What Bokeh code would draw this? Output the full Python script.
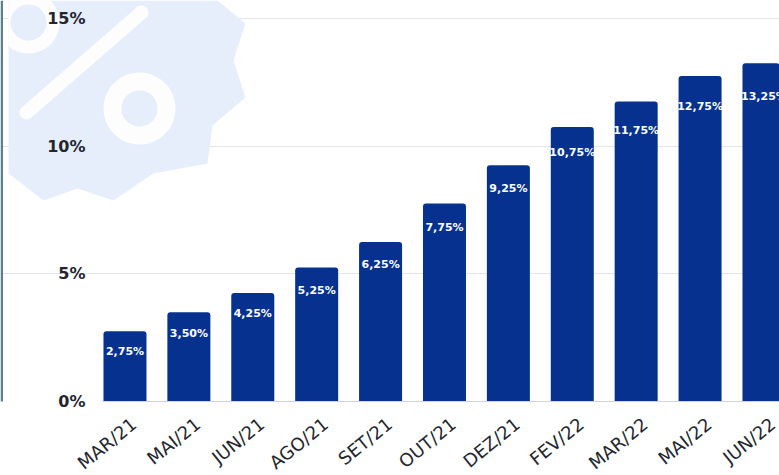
import numpy as np
from bokeh.plotting import figure
from bokeh.models import ColumnDataSource, FixedTicker, PolyAnnotation, BoxAnnotation
from bokeh.embed import file_html
from bokeh.resources import INLINE
from bokeh.core.properties import value

months = ["MAR/21", "MAI/21", "JUN/21", "AGO/21", "SET/21", "OUT/21", "DEZ/21", "FEV/22", "MAR/22", "MAI/22", "JUN/22"]
rates = [2.75, 3.50, 4.25, 5.25, 6.25, 7.75, 9.25, 10.75, 11.75, 12.75, 13.25]
rate_labels = ["2,75%", "3,50%", "4,25%", "5,25%", "6,25%", "7,75%", "9,25%", "10,75%", "11,75%", "12,75%", "13,25%"]
y_ticks = [0, 5, 10, 15]
y_tick_labels = {0: "0%", 5: "5%", 10: "10%", 15: "15%"}
label_drop_px = [20, 21, 21, 23, 23, 24, 23, 25, 29, 31, 33]

W, H = 779, 475
xs = list(range(len(months)))
src = ColumnDataSource(dict(x=xs, top=rates, lab=rate_labels, drop=label_drop_px))

p = figure(width=W, height=H, frame_width=W, frame_height=401,
           output_backend="svg", toolbar_location=None,
           x_range=(-1.948, 10.243), y_range=(0, 15.705),
           min_border_left=0, min_border_right=0, min_border_top=0, min_border_bottom=0,
           outline_line_color=None, background_fill_color=None, border_fill_color="white")

INK = "#23262e"
BLOB = "#e7eefb"
HOLE = "#fdfdfe"

def ring(cx, cy, r):
    t = np.linspace(0, 2 * np.pi, 72)
    return cx + r * np.cos(t), cy + r * np.sin(t)

def poly(px, py, color):
    p.add_layout(PolyAnnotation(xs=list(np.maximum(px, 8)), ys=list(py), xs_units="canvas", ys_units="canvas",
                                fill_color=color, fill_alpha=1, line_color=None, level="underlay", editable=False))

poly(np.array([8, 217, 245, 233, 245, 212, 207, 153, 113, 77, 43, 8.]),
     np.array([0, 0, 23, 60, 97, 125, 163, 173, 200, 188, 200, 173.]), BLOB)
for cx, cy, r in [(28, 22, 31), (139, 108, 36)]:
    poly(*ring(cx, cy, r), HOLE)
    poly(*ring(cx, cy, 18), BLOB)

# the white stroke of the percent sign
ax0, ay0, bx0, by0, hw = 26, 112, 141, 12, 7
th = np.arctan2(by0 - ay0, bx0 - ax0)
arc_b = np.linspace(th - np.pi / 2, th + np.pi / 2, 12)
arc_a = np.linspace(th + np.pi / 2, th + 3 * np.pi / 2, 12)
poly(np.concatenate([bx0 + hw * np.cos(arc_b), ax0 + hw * np.cos(arc_a)]),
     np.concatenate([by0 + hw * np.sin(arc_b), ay0 + hw * np.sin(arc_a)]), HOLE)

p.add_layout(BoxAnnotation(left=0, right=2.5, top=0, bottom=475, left_units="canvas", right_units="canvas",
                           top_units="canvas", bottom_units="canvas", fill_color="#5d7f8b", fill_alpha=1,
                           line_color=None, level="underlay", editable=False))

p.xgrid.visible = False
p.ygrid.ticker = FixedTicker(ticks=y_ticks)
p.ygrid.grid_line_color = "#e3e5ea"
p.ygrid.grid_line_width = 1
p.ygrid.bounds = (-0.352, 10.243)

p.vbar(x="x", top="top", bottom=0, width=0.673, source=src, fill_color="#06318f", line_color=None,
       border_radius=dict(top_left=3, top_right=3, bottom_left=0, bottom_right=0))

p.text(x="x", y="top", text="lab", source=src, y_offset="drop", text_color="white",
       text_font=value("DejaVu Sans"), text_font_style="bold", text_font_size="11px",
       text_align="center", text_baseline="middle")

ax = p.xaxis[0]
ax.ticker = FixedTicker(ticks=[x + 0.14 for x in xs])
ax.major_label_overrides = {x + 0.14: m for x, m in zip(xs, months)}
ax.major_label_orientation = 0.68
ax.major_label_text_font = "DejaVu Sans"
ax.major_label_text_font_size = "18px"
ax.major_label_text_color = INK
ax.major_label_standoff = 14
ax.major_tick_line_color = None
ax.minor_tick_line_color = None
ax.axis_line_color = "#cfd2d8"
ax.axis_line_width = 1
ax.bounds = (-0.352, 10.243)

ay = p.yaxis[0]
ay.ticker = FixedTicker(ticks=y_ticks)
ay.major_label_overrides = y_tick_labels
ay.major_label_text_font = "DejaVu Sans"
ay.major_label_text_font_style = "bold"
ay.major_label_text_font_size = "16px"
ay.major_label_text_color = INK
ay.major_label_standoff = -91
ay.major_tick_line_color = None
ay.minor_tick_line_color = None
ay.axis_line_color = None

open("out.html", "w").write(file_html(p, INLINE))
